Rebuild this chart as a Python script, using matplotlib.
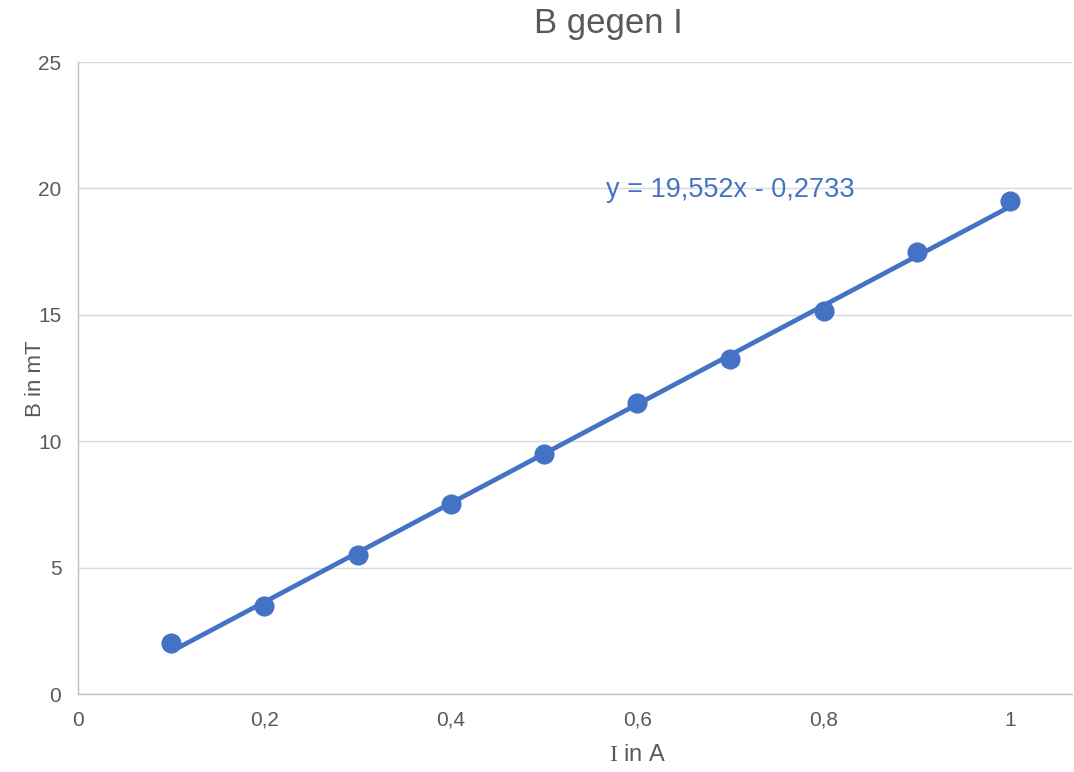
import numpy as np
import matplotlib
matplotlib.use("Agg")
import matplotlib.pyplot as plt

# measured values
current = [0.1, 0.2, 0.3, 0.4, 0.5, 0.6, 0.7, 0.8, 0.9, 1.0]
field = [2.0, 3.5, 5.5, 7.5, 9.5, 11.5, 13.25, 15.15, 17.5, 19.5]
slope = 19.552
intercept = -0.2733
x_ticks = [0, 0.2, 0.4, 0.6, 0.8, 1.0]
x_tick_labels = ["0", "0,2", "0,4", "0,6", "0,8", "1"]
y_ticks = [0, 5, 10, 15, 20, 25]

blue = "#4472C4"
text_col = "#595959"

plt.rcParams["font.family"] = ["Liberation Sans", "DejaVu Sans"]
plt.rcParams["mathtext.fontset"] = "custom"
plt.rcParams["mathtext.rm"] = "Liberation Serif"

fig = plt.figure(figsize=(10.74, 7.72), dpi=100)
ax = fig.add_axes([78 / 1074, 1 - 694 / 772, (1072 - 78) / 1074, (694 - 62) / 772])

# trendline
xs = np.array([current[0], current[-1]])
ax.plot(xs, slope * xs + intercept, color=blue, lw=3.4, solid_capstyle="butt", zorder=3)
ax.plot(current, field, "o", color=blue, ms=13.5, zorder=4)

ax.set_xlim(0, 1.0665)
ax.set_ylim(0, 25)
ax.set_xticks(x_ticks)
ax.set_xticklabels(x_tick_labels)
ax.set_yticks(y_ticks)
ax.tick_params(length=0, labelsize=15, labelcolor=text_col, pad=12)
ax.grid(axis="y", color="#D9D9D9", lw=1)
ax.set_axisbelow(True)
for s in ["top", "right"]:
    ax.spines[s].set_visible(False)
for s in ["left", "bottom"]:
    ax.spines[s].set_color("#BFBFBF")
    ax.spines[s].set_linewidth(1)

eq = f"y = {slope:.3f}x - {abs(intercept):.4f}".replace(".", ",")
ax.text(0.567, 19.95, eq, color=blue, fontsize=19.5, ha="left", va="center")

fig.text(0.566, 0.969, "B gegen I", fontsize=25, color=text_col, ha="center", va="center")
fig.text(0.594, 0.022, r"$\mathrm{I}$ in A", fontsize=17, color=text_col, ha="center", va="center")
fig.text(0.033, 0.509, "B in mT", fontsize=16, color=text_col, ha="center", va="center", rotation=90)

fig.savefig("out.png", dpi=100)
